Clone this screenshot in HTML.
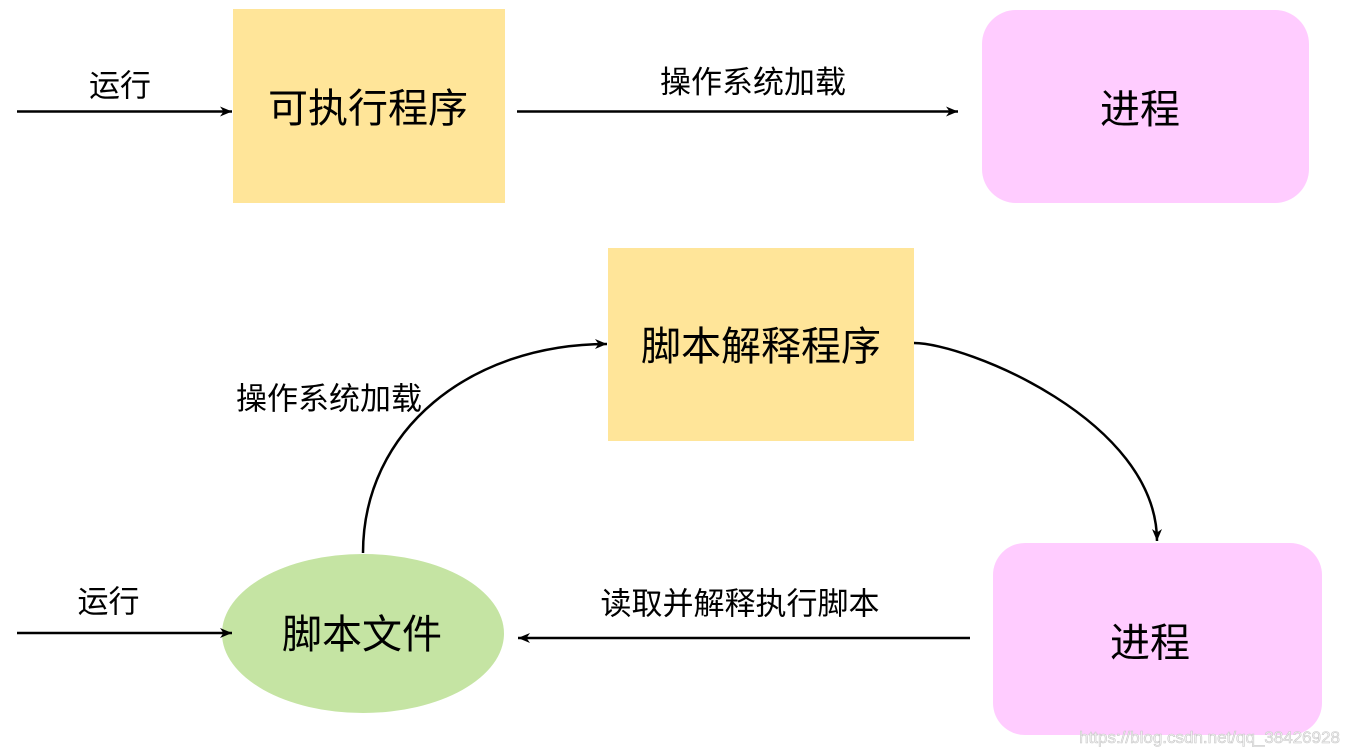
<!DOCTYPE html>
<html>
<head>
<meta charset="utf-8">
<style>
  html, body { margin: 0; padding: 0; background: #ffffff; }
  body { width: 1350px; height: 755px; overflow: hidden; }
  svg { display: block; }
  .cjk { font-family: "Liberation Sans", "Noto Sans CJK SC", "WenQuanYi Zen Hei", sans-serif; fill: #000; }
  .wm { font-family: "Liberation Sans", Arial, sans-serif; }
</style>
</head>
<body>
<svg width="1350" height="755" viewBox="0 0 1350 755" xmlns="http://www.w3.org/2000/svg">
  <defs>
    <marker id="ah" markerWidth="13" markerHeight="11" refX="12" refY="5.5" orient="auto" markerUnits="userSpaceOnUse">
      <path d="M0,0.5 L12,5.5 L0,10.5 L3.5,5.5 Z" fill="#000"/>
    </marker>
  </defs>

  <!-- Top row shapes -->
  <rect x="233" y="9" width="272" height="194" fill="#FFE599"/>
  <rect x="982" y="10" width="327" height="193" rx="34" ry="34" fill="#FFCCFF"/>

  <!-- Bottom shapes -->
  <rect x="608" y="248" width="306" height="193" fill="#FFE599"/>
  <ellipse cx="363" cy="633.5" rx="141" ry="79.5" fill="#C5E4A3"/>
  <rect x="993" y="543" width="329" height="192" rx="32" ry="32" fill="#FFCCFF"/>

  <!-- Connectors -->
  <line x1="17" y1="111.5" x2="232" y2="111.5" stroke="#000" stroke-width="2.5" marker-end="url(#ah)"/>
  <line x1="517" y1="111.5" x2="958" y2="111.5" stroke="#000" stroke-width="2.5" marker-end="url(#ah)"/>
  <line x1="17" y1="633" x2="232" y2="633" stroke="#000" stroke-width="2.5" marker-end="url(#ah)"/>
  <line x1="970" y1="638" x2="518" y2="638" stroke="#000" stroke-width="2.5" marker-end="url(#ah)"/>
  <path d="M363,553 C363,430 470,344 607,344" fill="none" stroke="#000" stroke-width="2.5" marker-end="url(#ah)"/>
  <path d="M914,343 C965,343 1157,420 1157,541" fill="none" stroke="#000" stroke-width="2.5" marker-end="url(#ah)"/>

  <!-- Node labels -->
  <text class="cjk" x="368" y="109" font-size="40" text-anchor="middle" dominant-baseline="central">可执行程序</text>
  <text class="cjk" x="1140" y="110" font-size="40" text-anchor="middle" dominant-baseline="central">进程</text>
  <text class="cjk" x="761" y="347" font-size="40" text-anchor="middle" dominant-baseline="central">脚本解释程序</text>
  <text class="cjk" x="362" y="635" font-size="40" text-anchor="middle" dominant-baseline="central">脚本文件</text>
  <text class="cjk" x="1150" y="643.5" font-size="40" text-anchor="middle" dominant-baseline="central">进程</text>

  <!-- Edge labels -->
  <text class="cjk" x="120" y="86" font-size="31" text-anchor="middle" dominant-baseline="central">运行</text>
  <text class="cjk" x="753" y="82.5" font-size="31" text-anchor="middle" dominant-baseline="central">操作系统加载</text>
  <text class="cjk" x="329" y="399" font-size="31" text-anchor="middle" dominant-baseline="central">操作系统加载</text>
  <text class="cjk" x="108.5" y="602" font-size="31" text-anchor="middle" dominant-baseline="central">运行</text>
  <text class="cjk" x="740" y="604" font-size="31" text-anchor="middle" dominant-baseline="central">读取并解释执行脚本</text>

  <!-- Watermark -->
  <text class="wm" x="1340" y="743" font-size="17" text-anchor="end" fill="#f4f4f4" stroke="#c8c8c8" stroke-width="0.6">https://blog.csdn.net/qq_38426928</text>
</svg>
</body>
</html>
